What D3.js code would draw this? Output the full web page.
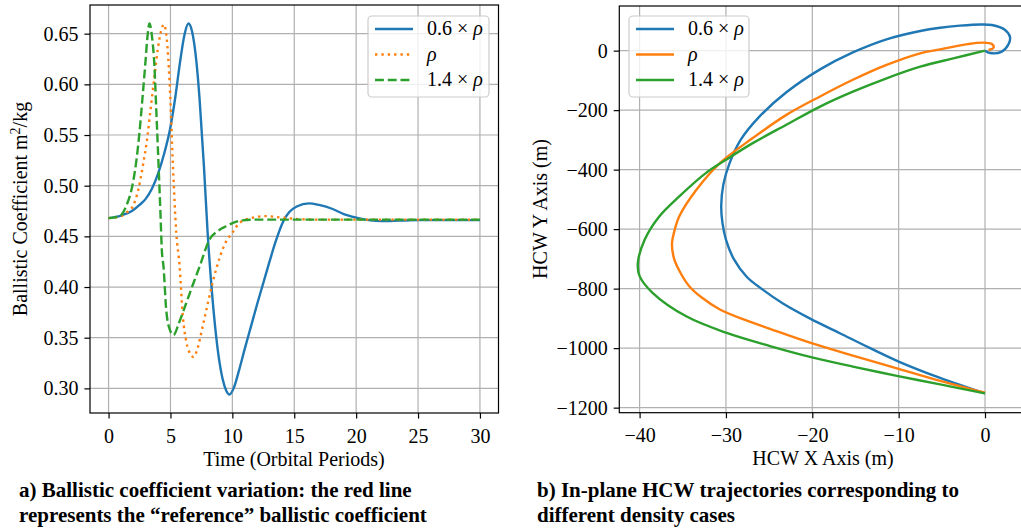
<!DOCTYPE html>
<html><head><meta charset="utf-8">
<script src="https://cdn.jsdelivr.net/npm/d3@7"></script>
<style>
html,body{margin:0;padding:0;background:#fff;}
svg{display:block;}
text{font-family:"Liberation Serif","Times New Roman",serif;fill:#000;}
</style></head>
<body><svg id="c" width="1021" height="529"></svg>
<script>
// ---------- Data (panel a) ----------
const seriesNames = ["0.6 × ρ", "ρ", "1.4 × ρ"];
const colors = ["#1f77b4", "#ff7f0e", "#2ca02c"];
const tBlue = [0,1,2,2.5,3.0,3.5,4.0,4.5,5.0,5.4,5.74,6.15,6.45,6.75,7.1,7.35,7.7,8.0,8.4,8.8,9.2,9.5,9.77,10.1,10.5,11.0,11.5,12.0,12.5,13.0,13.5,14.1,14.6,15.2,16.2,17.0,18.1,19.0,20.0,21.0,22.1,23.5,25,30];
const bcBlue = [0.468,0.4705,0.476,0.481,0.487,0.497,0.512,0.532,0.558,0.588,0.619,0.650,0.660,0.652,0.622,0.586,0.520,0.454,0.388,0.340,0.310,0.298,0.294,0.300,0.316,0.339,0.361,0.383,0.404,0.425,0.445,0.4645,0.474,0.4795,0.4826,0.481,0.477,0.472,0.4685,0.466,0.465,0.4655,0.466,0.466];
const tOrange = [0,1,1.5,1.97,2.4,2.77,3.1,3.4,3.7,3.98,4.25,4.47,4.7,4.93,5.2,5.47,5.74,6.0,6.3,6.6,6.87,7.2,7.6,8.0,8.4,9.0,9.5,10.0,10.6,11.66,12.7,14,15.4,17,30];
const bcOrange = [0.468,0.470,0.474,0.480,0.496,0.5196,0.545,0.576,0.607,0.635,0.653,0.659,0.645,0.602,0.520,0.4536,0.4204,0.371,0.345,0.334,0.331,0.340,0.361,0.383,0.404,0.430,0.445,0.4536,0.4635,0.4685,0.470,0.4685,0.467,0.4665,0.4665];
const tGreen = [0,0.89,1.43,1.97,2.25,2.5,2.75,2.96,3.15,3.3,3.5,3.7,3.87,4.04,4.2,4.3,4.44,4.66,4.95,5.25,5.7,6.27,6.8,7.35,8.16,8.8,9.5,10.8,12,30];
const bcGreen = [0.468,0.470,0.480,0.503,0.525,0.553,0.588,0.619,0.648,0.660,0.648,0.619,0.570,0.520,0.470,0.437,0.420,0.377,0.358,0.3527,0.365,0.384,0.402,0.420,0.447,0.455,0.460,0.4658,0.4665,0.4665];
const timeTicks = [0,5,10,15,20,25,30];
const bcTicks = [0.30,0.35,0.40,0.45,0.50,0.55,0.60,0.65];

// ---------- Data (panel b) ----------
const xBlue = [0,0.6,1.9,2.7,2.9,2.3,0.8,-0.5,-2.9,-5.2,-7.5,-11.4,-15.3,-19.1,-23.0,-26.1,-28.3,-29.6,-30.3,-30.55,-30.4,-30.0,-29.1,-27.6,-25.9,-23.4,-20.3,-16.8,-13.3,-10.0,-5.2,0];
const yBlue = [0,-8,-4,20,45,70,86,88,84,77,66,38,-6,-63,-140,-221,-300,-380,-450,-523,-580,-635,-700,-760,-800,-850,-900,-950,-1000,-1045,-1100,-1152];
const xOrange = [0.4,1.0,0.8,-0.2,-2.0,-5.2,-7.5,-11.4,-15.3,-19.1,-23.0,-26.9,-30.7,-33.4,-35.4,-36.0,-36.25,-36.0,-35.3,-34.3,-32.8,-30.7,-27.8,-24.9,-19.9,-15.3,-10.2,-5.2,0];
const yOrange = [2,10,22,27,22,4,-9,-48,-98,-154,-216,-294,-378,-467,-557,-610,-650,-700,-745,-790,-830,-870,-905,-935,-985,-1025,-1068,-1110,-1150];
const xGreen = [0,-3.67,-7.5,-11.4,-15.3,-19.1,-23.0,-26.9,-30.0,-32.3,-35.4,-37.7,-39.4,-40.2,-40.0,-38.5,-34.6,-30.0,-24.9,-19.9,-15.3,-10.2,-5.2,0];
const yGreen = [0,-26,-54,-93,-138,-188,-249,-311,-367,-411,-490,-557,-635,-713,-758,-814,-893,-948,-993,-1032,-1062,-1093,-1122,-1152];
const hcwXTicks = [-40,-30,-20,-10,0];
const hcwYTicks = [-1200,-1000,-800,-600,-400,-200,0];

const svg = d3.select("#c");
const FS = 20, LW = 2.4;

function zip(a,b){return a.map((v,i)=>[v,b[i]]);}

function panel(o){
  const g = svg.append("g");
  const x = d3.scaleLinear().domain(o.xd).range(o.xr);
  const y = d3.scaleLinear().domain(o.yd).range(o.yr);
  const id = "clip"+o.name;
  g.append("clipPath").attr("id",id).append("rect")
    .attr("x",o.xr[0]).attr("y",o.yr[1]).attr("width",o.xr[1]-o.xr[0]).attr("height",o.yr[0]-o.yr[1]);
  // grid
  g.append("g").selectAll("line").data(o.xt).join("line")
    .attr("x1",d=>x(d)).attr("x2",d=>x(d)).attr("y1",o.yr[0]).attr("y2",o.yr[1])
    .attr("stroke","#b0b0b0").attr("stroke-width",1.2);
  g.append("g").selectAll("line").data(o.yt).join("line")
    .attr("y1",d=>y(d)).attr("y2",d=>y(d)).attr("x1",o.xr[0]).attr("x2",o.xr[1])
    .attr("stroke","#b0b0b0").attr("stroke-width",1.2);
  // lines
  const lg = g.append("g").attr("clip-path",`url(#${id})`);
  o.series.forEach((s,i)=>{
    lg.append("path").datum(s.pts)
      .attr("d",d3.line().x(d=>x(d[0])).y(d=>y(d[1])).curve(o.curve))
      .attr("fill","none").attr("stroke",colors[i]).attr("stroke-width",LW)
      .attr("stroke-dasharray",s.dash||null).attr("stroke-linejoin","round");
  });
  // axes
  const ax = d3.axisBottom(x).tickValues(o.xt).tickSize(5.6).tickPadding(6).tickFormat(o.xf);
  const ay = d3.axisLeft(y).tickValues(o.yt).tickSize(5.6).tickPadding(6).tickFormat(o.yf);
  const gx = g.append("g").attr("transform",`translate(0,${o.yr[0]})`).call(ax);
  const gy = g.append("g").attr("transform",`translate(${o.xr[0]},0)`).call(ay);
  [gx,gy].forEach(a=>{
    a.attr("font-family",null).attr("font-size",null);
    a.select(".domain").remove();
    a.selectAll(".tick line").attr("stroke","#000").attr("stroke-width",1.2);
    a.selectAll(".tick text").style("font-family","'Liberation Serif', serif").style("font-size",FS+"px");
  });
  gx.selectAll(".tick text").attr("dy","0.9em");
  // spines
  g.append("rect").attr("x",o.xr[0]).attr("y",o.yr[1]).attr("width",o.xr[1]-o.xr[0]).attr("height",o.yr[0]-o.yr[1])
    .attr("fill","none").attr("stroke","#000").attr("stroke-width",1.2);
  // legend
  const L = o.legend;
  const lgd = g.append("g");
  lgd.append("rect").attr("x",L.x).attr("y",L.y).attr("width",L.w).attr("height",L.h).attr("rx",4)
    .attr("fill","#fff").attr("fill-opacity",0.8).attr("stroke","#cccccc").attr("stroke-width",1.2);
  o.series.forEach((s,i)=>{
    const yy = L.y + 13 + i*25.5;
    lgd.append("line").attr("x1",L.x+7).attr("x2",L.x+45).attr("y1",yy).attr("y2",yy)
      .attr("stroke",colors[i]).attr("stroke-width",LW).attr("stroke-dasharray",s.dash||null);
    const t = lgd.append("text").attr("x",L.x+59).attr("y",yy+6).style("font-size",FS+"px");
    const parts = seriesNames[i].split("ρ");
    t.append("tspan").text(parts[0]);
    t.append("tspan").style("font-style","italic").text("ρ");
  });
}

panel({name:"a", xd:[-1.5,31.5], xr:[90,498.5], yd:[0.2757,0.6783], yr:[413,5],
  xt:timeTicks, yt:bcTicks, xf:d3.format("d"), yf:d3.format(".2f"), curve:d3.curveMonotoneX,
  series:[{pts:zip(tBlue,bcBlue)},{pts:zip(tOrange,bcOrange),dash:"2.4,3.96"},{pts:zip(tGreen,bcGreen),dash:"8.9,3.84"}],
  legend:{x:368,y:16,w:121,h:81}});

panel({name:"b", xd:[-42.35,5.05], xr:[619.3,1028.6], yd:[-1217,150], yr:[412.7,6],
  xt:hcwXTicks, yt:hcwYTicks, xf:d3.format("d"), yf:d3.format("d"), curve:d3.curveCatmullRom.alpha(0.5),
  series:[{pts:zip(xBlue,yBlue)},{pts:zip(xOrange,yOrange)},{pts:zip(xGreen,yGreen)}],
  legend:{x:629,y:16,w:120,h:81}});

// axis labels
svg.append("text").attr("x",294).attr("y",466).attr("text-anchor","middle").style("font-size",FS+"px").text("Time (Orbital Periods)");
svg.append("text").attr("x",823).attr("y",465).attr("text-anchor","middle").style("font-size",FS+"px").text("HCW X Axis (m)");
const yl = svg.append("text").attr("transform","translate(27,209) rotate(-90)").attr("text-anchor","middle").style("font-size",FS+"px");
yl.append("tspan").text("Ballistic Coefficient m");
yl.append("tspan").attr("baseline-shift","super").style("font-size","14px").text("2");
yl.append("tspan").text("/kg");
svg.append("text").attr("transform","translate(547,209) rotate(-90)").attr("text-anchor","middle").style("font-size",FS+"px").text("HCW Y Axis (m)");

// captions
const caps = [
  {x:19, lines:["a) Ballistic coefficient variation: the red line","represents the “reference” ballistic coefficient"]},
  {x:537, lines:["b) In-plane HCW trajectories corresponding to","different density cases"]}
];
caps.forEach(c=>c.lines.forEach((l,i)=>{
  svg.append("text").attr("x",c.x).attr("y",497+i*25).style("font-size","21px").style("font-weight","bold").text(l);
}));
</script></body></html>
